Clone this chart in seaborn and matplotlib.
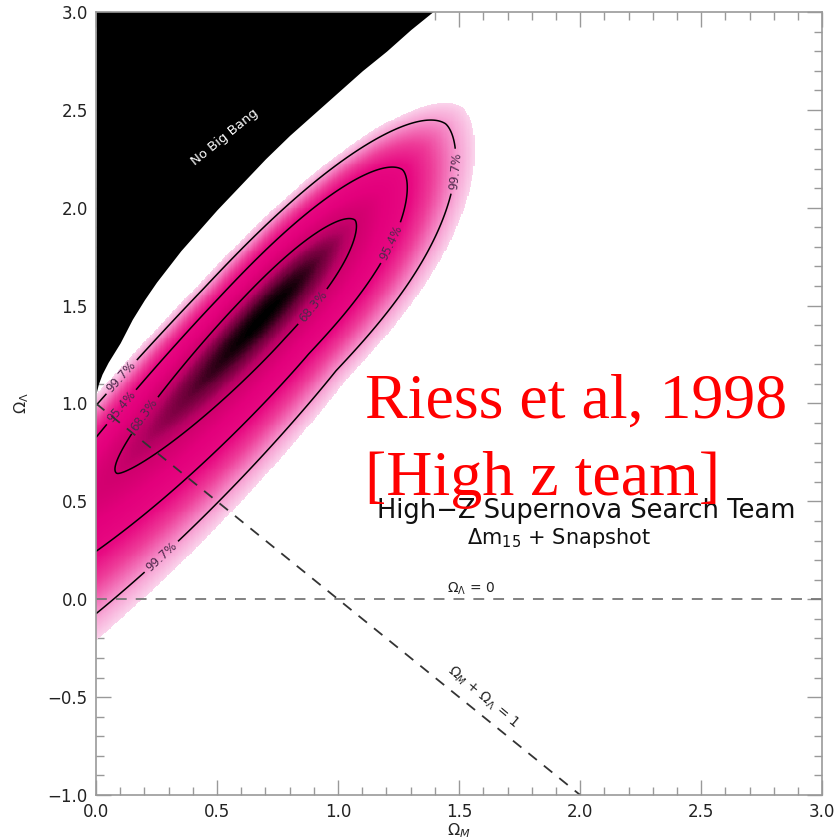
import numpy as np
import pandas as pd
import matplotlib
matplotlib.use("Agg")
import matplotlib.pyplot as plt
import seaborn as sns
from matplotlib.colors import LinearSegmentedColormap
from matplotlib.ticker import MultipleLocator

# ---------------- data ----------------
# likelihood surface description (Omega_M, Omega_Lambda plane)
peak_om, peak_ol = 0.669, 1.411
axis_angle_deg = 52.8
scale_u_pos, pow_u_pos = 0.473, 2.48
scale_u_neg, pow_u_neg = 0.573, 1.6
scale_v_pos, pow_v_pos = 0.083, 2.0
scale_v_neg, pow_v_neg = 0.078, 1.5
widen_v_pos = 0.06
widen_v_neg = 0.20
shade_cut = 14.5
chi2_levels = [2.30, 6.17, 11.8]
level_labels = ["68.3%", "95.4%", "99.7%"]
label_pos = [(0.20, 0.94), (0.90, 1.49),
             (0.107, 0.98), (1.22, 1.82),
             (0.12, 1.12), (0.256, 0.236), (1.53, 2.18)]

# "No Big Bang" boundary
nobb_om = [0.0, 0.01, 0.025, 0.05, 0.075, 0.1, 0.15, 0.2, 0.25, 0.3, 0.35, 0.4,
           0.5, 0.6, 0.7, 0.8, 0.9, 1.0, 1.1, 1.2, 1.3, 1.4]
nobb_ol = [1.05, 1.10, 1.15, 1.21, 1.26, 1.31, 1.43, 1.53, 1.62, 1.70, 1.78, 1.85,
           1.99, 2.12, 2.25, 2.37, 2.48, 2.59, 2.70, 2.80, 2.91, 3.01]

# reference lines
flat_om = [0.0, 2.0]
flat_ol = [1.0, -1.0]
lam0_om = [0.0, 3.0]
lam0_ol = [0.0, 0.0]

xticks = [0.0, 0.5, 1.0, 1.5, 2.0, 2.5, 3.0]
yticks = [-1.0, -0.5, 0.0, 0.5, 1.0, 1.5, 2.0, 2.5, 3.0]

# ---------------- figure ----------------
sns.set_style("ticks")
plt.rcParams['font.family'] = ['DejaVu Sans']
plt.rcParams['mathtext.fontset'] = 'dejavusans'

fig = plt.figure(figsize=(8.39, 8.40), dpi=100)
ax = fig.add_axes([0.1144, 0.0536, 0.8656, 0.9321])

# likelihood grid
gx = np.linspace(0, 3, 601)
gy = np.linspace(-1, 3, 801)
X, Y = np.meshgrid(gx, gy)
th = np.deg2rad(axis_angle_deg)
dx, dy = X - peak_om, Y - peak_ol
u = dx * np.cos(th) + dy * np.sin(th)
v = -dx * np.sin(th) + dy * np.cos(th)
neg_u = np.clip(-u, 0, None)
au = np.where(u >= 0, scale_u_pos, scale_u_neg)
pu = np.where(u >= 0, pow_u_pos, pow_u_neg)
bv = np.where(v >= 0, scale_v_pos * (1 + widen_v_pos * neg_u),
              scale_v_neg * (1 + widen_v_neg * neg_u))
pv = np.where(v >= 0, pow_v_pos, pow_v_neg)
chi2 = (np.abs(u) / au) ** pu + (np.abs(v) / bv) ** pv

cmap = LinearSegmentedColormap.from_list(
    "hz",
    [(0.0, "#000000"), (0.012, "#1a000c"), (0.05, "#6a0038"), (0.11, "#b40062"),
     (0.16, "#d0006e"), (0.28, "#e3007c"), (0.45, "#e80a82"), (0.60, "#ee3c99"),
     (0.75, "#f47dbf"), (0.86, "#f8aad7"), (1.0, "#fbd4ec")])
shade = np.ma.masked_where(chi2 > shade_cut, chi2)
ax.imshow(shade, extent=[0, 3, -1, 3], origin="lower", cmap=cmap,
          vmin=0, vmax=shade_cut, aspect="auto", interpolation="nearest", zorder=1)

cs = ax.contour(X, Y, chi2, levels=chi2_levels, colors="black", linewidths=1.1, zorder=2)
fmt = {lv: lab for lv, lab in zip(cs.levels, level_labels)}
ax.clabel(cs, cs.levels, inline=True, fmt=fmt, fontsize=8.5, colors="#4e2a4c",
          manual=label_pos, inline_spacing=4)

# No Big Bang region
ax.fill_between(nobb_om, nobb_ol, 3.2, color="black", lw=0, zorder=3)
ax.text(0.533, 2.36, "No Big Bang", color="white", rotation=39, fontsize=9.5,
        ha="center", va="center", zorder=4)

# reference lines
sns.lineplot(x=lam0_om, y=lam0_ol, ax=ax, color="#777777", lw=1.3,
             linestyle=(0, (6, 5)), zorder=5)
sns.lineplot(x=flat_om, y=flat_ol, ax=ax, color="#333333", lw=1.3,
             linestyle=(0, (6, 5)), zorder=5)
ax.text(1.55, 0.055, r"$\Omega_\Lambda$ = 0", fontsize=10, ha="center", va="center",
        color="#222222", zorder=6)
ax.text(1.60, -0.50, r"$\Omega_M$ + $\Omega_\Lambda$ = 1", fontsize=10, rotation=-40,
        ha="center", va="center", color="#222222", zorder=6)

ax.text(2.025, 0.452, "High\u2212Z Supernova Search Team", fontsize=18.5,
        ha="center", va="center", color="#111111", zorder=6)
ax.text(1.913, 0.312, r"$\Delta$m$_{15}$ + Snapshot", fontsize=15,
        ha="center", va="center", color="#111111", zorder=6)

# axes styling
ax.set_xlim(0, 3)
ax.set_ylim(-1, 3)
ax.set_xticks(xticks)
ax.set_yticks(yticks)
ax.set_xticklabels([f"{t:.1f}" for t in xticks])
ax.set_yticklabels([f"{t:.1f}".replace("-", "\u2212") for t in yticks])
ax.xaxis.set_minor_locator(MultipleLocator(0.1))
ax.yaxis.set_minor_locator(MultipleLocator(0.1))
ax.tick_params(which="both", direction="in", top=True, right=True, color="#999999",
               width=1.0, labelsize=12, labelcolor="#222222")
ax.tick_params(which="major", length=10.5, pad=6)
ax.tick_params(which="minor", length=5.5)
for s in ax.spines.values():
    s.set_color("#999999")
    s.set_linewidth(1.2)
    s.set_zorder(7)
ax.set_xlabel(r"$\Omega_M$", fontsize=11.5, labelpad=0)
ax.set_ylabel(r"$\Omega_\Lambda$", fontsize=11.5, labelpad=12)

# overlay annotation
fig.text(0.435, 1 - 418 / 840, "Riess et al, 1998", fontsize=46, color="red",
         family="Liberation Serif", ha="left", va="baseline", zorder=10)
fig.text(0.435, 1 - 495 / 840, "[High z team]", fontsize=46, color="red",
         family="Liberation Serif", ha="left", va="baseline", zorder=10)

fig.savefig("out.png", dpi=100)
